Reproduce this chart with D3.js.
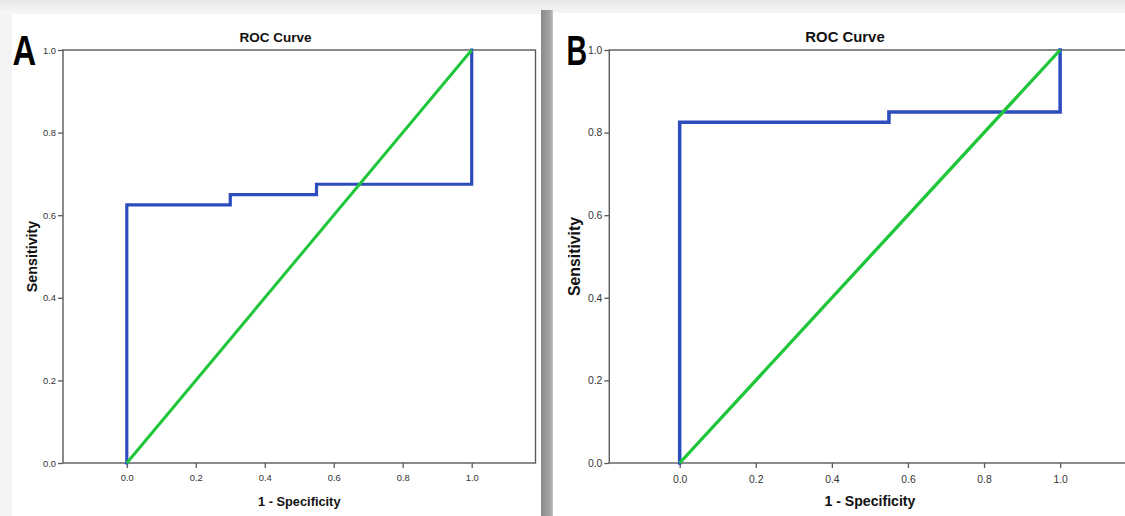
<!DOCTYPE html>
<html><head><meta charset="utf-8">
<script src="https://cdn.jsdelivr.net/npm/d3@7"></script>
<style>
html,body{margin:0;padding:0;background:#f2f2f2;}
svg{display:block;}
text{font-family:"Liberation Sans",Arial,sans-serif;}
</style></head>
<body>
<script>
// ---- data ----
const panelLetters = ["A", "B"];
const chartTitle = "ROC Curve";
const xAxisTitle = "1 - Specificity";
const yAxisTitle = "Sensitivity";
const tickValues = [0.0, 0.2, 0.4, 0.6, 0.8, 1.0];
const tickLabels = ["0.0", "0.2", "0.4", "0.6", "0.8", "1.0"];
// Panel A ROC curve (1 - specificity, sensitivity)
const fprA = [0, 0, 0.30, 0.30, 0.55, 0.55, 1.0, 1.0];
const tprA = [0, 0.625, 0.625, 0.65, 0.65, 0.675, 0.675, 1.0];
// Panel B ROC curve
const fprB = [0, 0, 0.55, 0.55, 1.0, 1.0];
const tprB = [0, 0.825, 0.825, 0.85, 0.85, 1.0];
// Reference (chance) line
const refX = [0, 1];
const refY = [0, 1];
const xDomain = [-0.185, 1.185];
const yDomain = [0, 1];

const W = 1125, H = 516;
const svg = d3.select("body").append("svg").attr("width", W).attr("height", H);
const defs = svg.append("defs");
const gTop = defs.append("linearGradient").attr("id","gTop").attr("x1",0).attr("y1",0).attr("x2",0).attr("y2",1);
gTop.append("stop").attr("offset","0%").attr("stop-color","#e8e8e8");
gTop.append("stop").attr("offset","100%").attr("stop-color","#f7f7f7");
const gSep = defs.append("linearGradient").attr("id","gSep").attr("x1",0).attr("y1",0).attr("x2",1).attr("y2",0);
gSep.append("stop").attr("offset","0%").attr("stop-color","#8a8a8a");
gSep.append("stop").attr("offset","80%").attr("stop-color","#a6a6a6");
gSep.append("stop").attr("offset","100%").attr("stop-color","#c8c8c8");

// background
svg.append("rect").attr("width", W).attr("height", H).attr("fill", "#f3f3f3");
svg.append("rect").attr("width", W).attr("height", 14).attr("fill", "url(#gTop)");
svg.append("rect").attr("x", 12).attr("y", 14).attr("width", 529).attr("height", H - 14).attr("fill", "#fff");
svg.append("rect").attr("x", 553).attr("y", 13).attr("width", W - 553).attr("height", H - 13).attr("fill", "#fff");
svg.append("rect").attr("x", 541).attr("y", 10).attr("width", 12).attr("height", H - 10).attr("fill", "url(#gSep)");

const panels = [
  {letter: panelLetters[0], fpr: fprA, tpr: tprA, left: 63, width: 472.5, k: 1.0, letterX: 12.5, letterS: 0.78, titleX: 275.5},
  {letter: panelLetters[1], fpr: fprB, tpr: tprB, left: 609.3, width: 521.2, k: 1.103, letterX: 566.5, letterS: 0.68, titleX: 845}
];
const plotTop = 50, plotBottom = 463;

panels.forEach(p => {
  const x = d3.scaleLinear().domain(xDomain).range([p.left, p.left + p.width]);
  const y = d3.scaleLinear().domain(yDomain).range([plotBottom, plotTop]);
  const g = svg.append("g");
  const k = p.k;

  // frame
  g.append("rect").attr("x", x(xDomain[0])).attr("y", y(1)).attr("width", x(xDomain[1]) - x(xDomain[0]))
    .attr("height", y(0) - y(1)).attr("fill", "none").attr("stroke", "#5a5a5a").attr("stroke-width", 1.4);

  // axes
  const fmt = (d) => tickLabels[tickValues.indexOf(d)];
  const ax = g.append("g").attr("transform", `translate(0,${plotBottom})`)
    .call(d3.axisBottom(x).tickValues(tickValues).tickFormat(fmt).tickSize(5).tickPadding(6.5 * k));
  const ay = g.append("g").attr("transform", `translate(${x(xDomain[0])},0)`)
    .call(d3.axisLeft(y).tickValues(tickValues).tickFormat(fmt).tickSize(5).tickPadding(2));
  [ax, ay].forEach(a => {
    a.select(".domain").remove();
    a.selectAll(".tick line").attr("stroke", "#5a5a5a").attr("stroke-width", 1.3);
    a.selectAll(".tick text").attr("fill", "#333").attr("font-size", (9.4 * k) + "px")
      .attr("font-family", "'Liberation Sans',Arial,sans-serif");
  });

  // curves
  const line = d3.line().x(d => x(d[0])).y(d => y(d[1]));
  const rocPts = p.fpr.map((v, i) => [v, p.tpr[i]]);
  const refPts = refX.map((v, i) => [v, refY[i]]);
  g.append("path").attr("d", line(rocPts)).attr("fill", "none").attr("stroke", "#2d4dbf")
    .attr("stroke-width", 3.2 * k).attr("stroke-linejoin", "miter").attr("stroke-linecap", "square");
  g.append("path").attr("d", line(refPts)).attr("fill", "none").attr("stroke", "#1fc63a")
    .attr("stroke-width", 3 * k);

  // titles
  g.append("text").attr("x", p.titleX).attr("y", 41.7).attr("text-anchor", "middle")
    .attr("font-size", (13.5 * k) + "px").attr("font-weight", "bold").attr("fill", "#111").text(chartTitle);
  g.append("text").attr("x", (x(xDomain[0]) + x(xDomain[1])) / 2).attr("y", 505.5).attr("text-anchor", "middle")
    .attr("font-size", (12.8 * k) + "px").attr("font-weight", "bold").attr("fill", "#111").text(xAxisTitle);
  const yl = x(xDomain[0]) - 26.3 * k;
  g.append("text").attr("transform", `translate(${yl},${(plotTop + plotBottom) / 2}) rotate(-90)`).attr("text-anchor", "middle")
    .attr("font-size", (14.3 * k) + "px").attr("font-weight", "bold").attr("fill", "#111").text(yAxisTitle);

  // panel letter
  svg.append("text").attr("transform", `translate(${p.letterX},65) scale(${p.letterS},1)`)
    .attr("font-size", "42px").attr("font-weight", "bold").attr("fill", "#000").text(p.letter);
});
</script>
</body></html>
